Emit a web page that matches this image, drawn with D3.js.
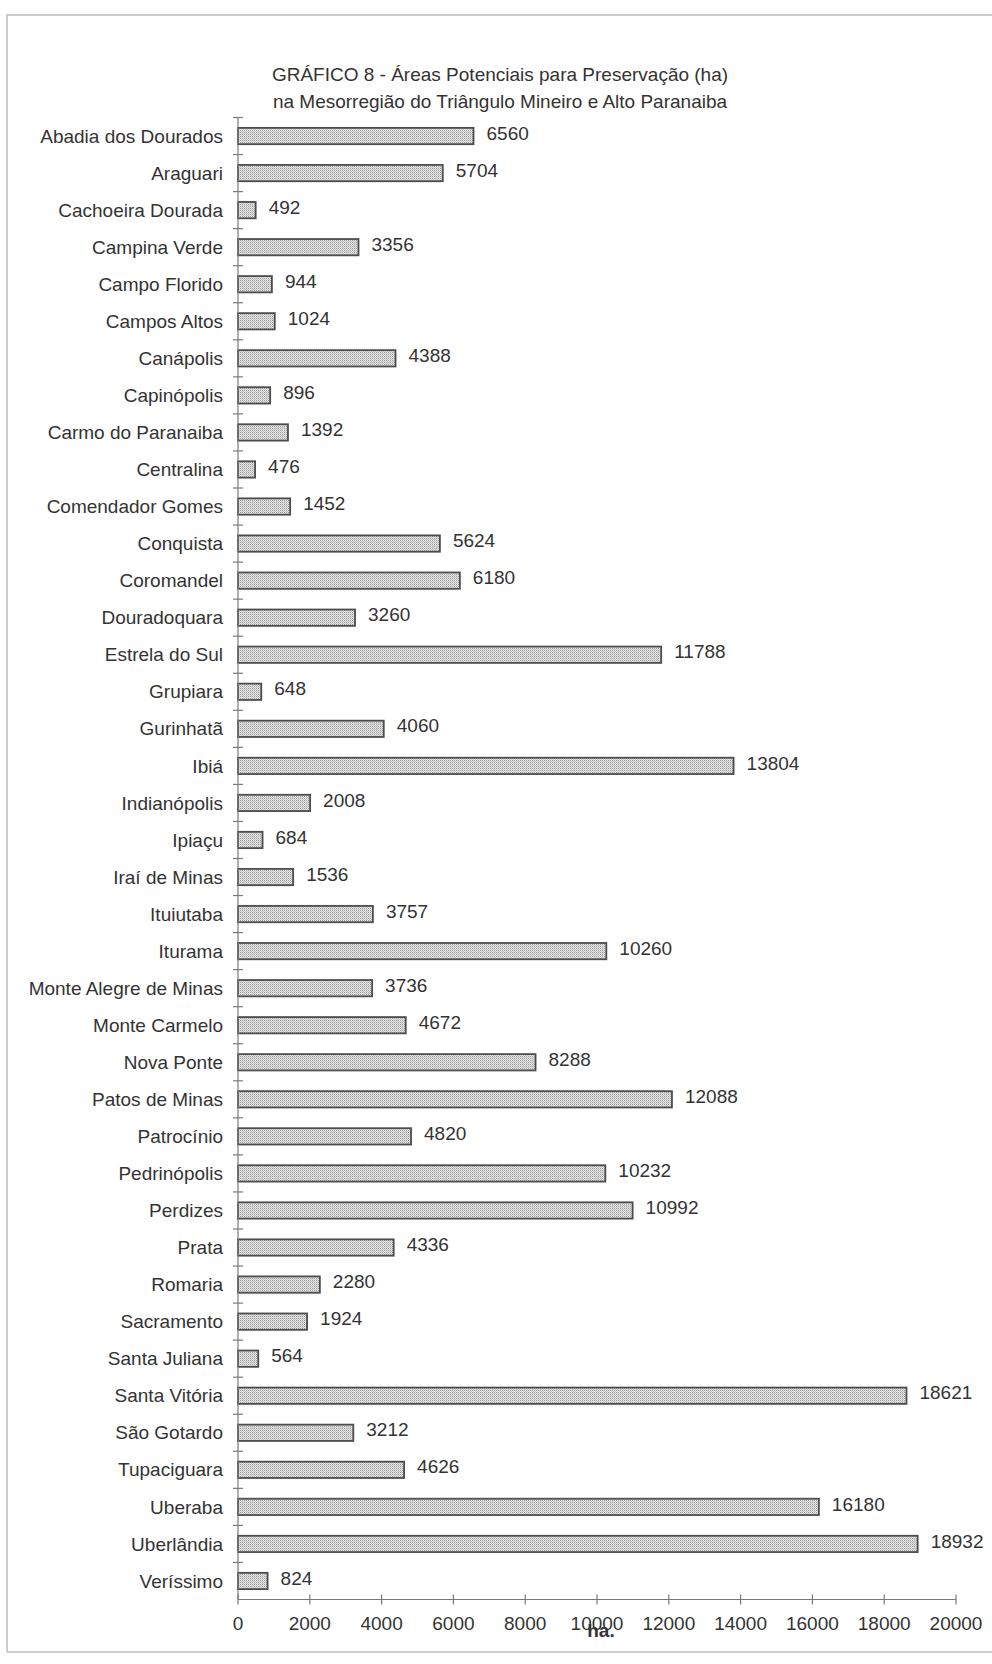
<!DOCTYPE html>
<html>
<head>
<meta charset="utf-8">
<script src="https://cdn.jsdelivr.net/npm/d3@7"></script>
<style>
  html, body { margin: 0; padding: 0; background: #fff; }
  svg { display: block; }
  text { font-family: "Liberation Sans", Arial, Helvetica, sans-serif; fill: #333; }
</style>
</head>
<body>
<svg id="chart" width="992" height="1664"></svg>
<script>
// Municípios da Mesorregião do Triângulo Mineiro e Alto Paranaíba
const municipios = [
  "Abadia dos Dourados", "Araguari", "Cachoeira Dourada", "Campina Verde",
  "Campo Florido", "Campos Altos", "Canápolis", "Capinópolis",
  "Carmo do Paranaiba", "Centralina", "Comendador Gomes", "Conquista",
  "Coromandel", "Douradoquara", "Estrela do Sul", "Grupiara",
  "Gurinhatã", "Ibiá", "Indianópolis", "Ipiaçu",
  "Iraí de Minas", "Ituiutaba", "Iturama", "Monte Alegre de Minas",
  "Monte Carmelo", "Nova Ponte", "Patos de Minas", "Patrocínio",
  "Pedrinópolis", "Perdizes", "Prata", "Romaria",
  "Sacramento", "Santa Juliana", "Santa Vitória", "São Gotardo",
  "Tupaciguara", "Uberaba", "Uberlândia", "Veríssimo"
];

// Áreas potenciais para preservação (ha)
const areas = [
  6560, 5704, 492, 3356,
  944, 1024, 4388, 896,
  1392, 476, 1452, 5624,
  6180, 3260, 11788, 648,
  4060, 13804, 2008, 684,
  1536, 3757, 10260, 3736,
  4672, 8288, 12088, 4820,
  10232, 10992, 4336, 2280,
  1924, 564, 18621, 3212,
  4626, 16180, 18932, 824
];

const xTicks = [0, 2000, 4000, 6000, 8000, 10000, 12000, 14000, 16000, 18000, 20000];

const titulo = [
  "GRÁFICO 8 - Áreas Potenciais para Preservação (ha)",
  "na Mesorregião do Triângulo Mineiro e Alto Paranaiba"
];
const rotuloEixoX = "ha.";

const data = municipios.map((m, i) => ({ nome: m, valor: areas[i] }));

const svg = d3.select("#chart");

// Layout
const plotLeft = 238, plotRight = 956, plotTop = 117.5, plotBottom = 1599.5;
const fs = 19;

const x = d3.scaleLinear().domain([0, 20000]).range([plotLeft, plotRight]);
const y = d3.scaleBand().domain(municipios).range([plotTop, plotBottom])
  .paddingInner(0.56).paddingOuter(0.28);

// Fine dotted fill for the bars
const defs = svg.append("defs");
const pat = defs.append("pattern")
  .attr("id", "pontilhado")
  .attr("width", 2).attr("height", 2)
  .attr("patternUnits", "userSpaceOnUse");
pat.append("rect").attr("width", 2).attr("height", 2).attr("fill", "#e6e6e6");
pat.append("rect").attr("x", 0).attr("y", 0).attr("width", 1).attr("height", 1).attr("fill", "#9a9a9a");
pat.append("rect").attr("x", 1).attr("y", 1).attr("width", 1).attr("height", 1).attr("fill", "#c4c4c4");

// Page frame
svg.append("path")
  .attr("d", "M7,1652 L7,15 L992,15 M7,1652 L992,1652")
  .attr("fill", "none")
  .attr("stroke", "#bcbcbc")
  .attr("stroke-width", 1.5);

// Title
svg.append("g").selectAll("text")
  .data(titulo)
  .join("text")
  .attr("x", 500)
  .attr("y", (d, i) => 81 + i * 27)
  .attr("text-anchor", "middle")
  .attr("font-size", fs)
  .text(d => d);

// Bars
svg.append("g").selectAll("rect")
  .data(data)
  .join("rect")
  .attr("x", x(0))
  .attr("y", d => y(d.nome))
  .attr("width", d => x(d.valor) - x(0))
  .attr("height", y.bandwidth())
  .attr("fill", "url(#pontilhado)")
  .attr("stroke", "#4d4d4d")
  .attr("stroke-width", 1.8);

// Value labels
svg.append("g").selectAll("text")
  .data(data)
  .join("text")
  .attr("x", d => x(d.valor) + 13)
  .attr("y", d => y(d.nome) + y.bandwidth() / 2 - 3)
  .attr("dy", "0.35em")
  .attr("font-size", fs)
  .text(d => d.valor);

// Category labels
svg.append("g").selectAll("text")
  .data(data)
  .join("text")
  .attr("x", plotLeft - 15)
  .attr("y", d => y(d.nome) + y.bandwidth() / 2)
  .attr("dy", "0.35em")
  .attr("text-anchor", "end")
  .attr("font-size", fs)
  .text(d => d.nome);

// Vertical axis with cross ticks between categories
const yAxis = svg.append("g").attr("stroke", "#7a7a7a").attr("stroke-width", 1.2);
yAxis.append("line")
  .attr("x1", plotLeft).attr("x2", plotLeft)
  .attr("y1", plotTop).attr("y2", plotBottom);
const fronteiras = municipios.map(m => y(m) - y.step() * y.paddingInner() / 2);
yAxis.selectAll("line.tick")
  .data(fronteiras)
  .join("line")
  .attr("class", "tick")
  .attr("x1", plotLeft - 5).attr("x2", plotLeft + 5)
  .attr("y1", d => d).attr("y2", d => d);

// Horizontal axis
const xAxis = svg.append("g").attr("stroke", "#7a7a7a").attr("stroke-width", 1.2);
xAxis.append("line")
  .attr("x1", x(0)).attr("x2", x(20000))
  .attr("y1", plotBottom).attr("y2", plotBottom);
xAxis.selectAll("line.tick")
  .data(xTicks)
  .join("line")
  .attr("class", "tick")
  .attr("x1", d => x(d)).attr("x2", d => x(d))
  .attr("y1", plotBottom - 5).attr("y2", plotBottom + 5);

svg.append("g").selectAll("text")
  .data(xTicks)
  .join("text")
  .attr("x", d => x(d))
  .attr("y", 1630)
  .attr("text-anchor", "middle")
  .attr("font-size", fs)
  .text(d => d);

svg.append("text")
  .attr("x", 601)
  .attr("y", 1637)
  .attr("text-anchor", "middle")
  .attr("font-size", fs)
  .attr("font-weight", "bold")
  .text(rotuloEixoX);
</script>
</body>
</html>
